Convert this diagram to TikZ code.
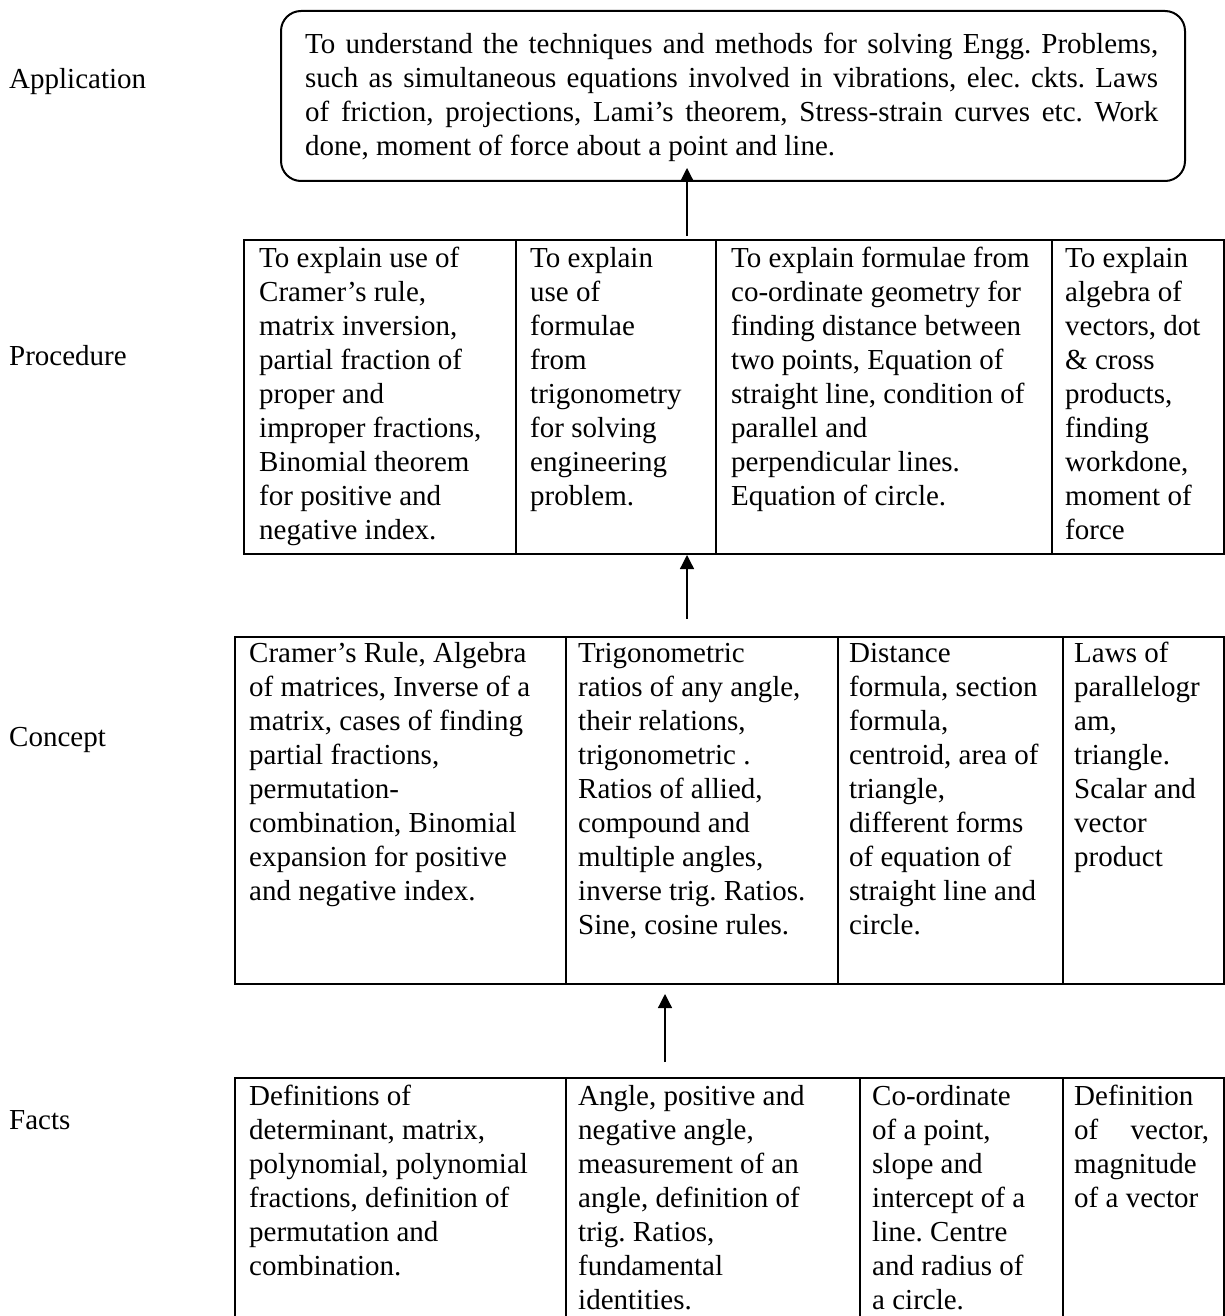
\documentclass[tikz,border=0pt]{standalone}
\usepackage{fontspec}
\setmainfont{Liberation Serif}
\usetikzlibrary{arrows.meta}
\frenchspacing
\tikzset{
  cellbox/.style={draw, line width=2pt, inner sep=0pt, anchor=north west},
  txt/.style={anchor=north west, inner sep=0pt, align=left, font=\fontsize{29}{34}\selectfont},
  arr/.style={line width=1.3pt, -{Triangle[width=14pt,length=14pt]}}
}
\begin{document}
\begin{tikzpicture}[x=1pt,y=-1pt]
\useasboundingbox (0,0) rectangle (1225,1316);
% labels
\node[txt] (lapp) at (9,64.2) {\strut Application};
\node[txt] (lproc) at (9,341.2) {\strut Procedure};
\node[txt] (lcon) at (9,722.2) {\strut Concept};
\node[txt] (lfac) at (9,1105.2) {\strut Facts};
% application box
\node[draw, line width=2pt, rounded corners=20pt, minimum width=904pt, minimum height=170pt, anchor=north west, inner sep=0pt] (appbox) at (280,10) {};
\node[txt] (apptxt) at (305,29.2) {\strut\makebox[853pt][s]{To understand the techniques and methods for solving Engg. Problems,}\\
\makebox[853pt][s]{such as simultaneous equations involved in vibrations, elec. ckts. Laws}\\
\makebox[853pt][s]{of friction, projections, Lami's theorem, Stress-strain curves etc. Work}\\
done, moment of force about a point and line.};
% procedure row
\node[cellbox, minimum width=272pt, minimum height=314pt] (p1) at (243,239) {};
\node[cellbox, minimum width=200pt, minimum height=314pt] (p2) at (515,239) {};
\node[cellbox, minimum width=336pt, minimum height=314pt] (p3) at (715,239) {};
\node[cellbox, minimum width=172pt, minimum height=314pt] (p4) at (1051,239) {};
\node[txt] (p1t) at (259,243.2) {\strut To explain use of\\Cramer's rule,\\matrix inversion,\\partial fraction of\\proper and\\improper fractions,\\Binomial theorem\\for positive and\\negative index.};
\node[txt] (p2t) at (530,243.2) {\strut To explain\\use of\\formulae\\from\\trigonometry\\for solving\\engineering\\problem.};
\node[txt] (p3t) at (731,243.2) {\strut To explain formulae from\\co-ordinate geometry for\\finding distance between\\two points, Equation of\\straight line, condition of\\parallel and\\perpendicular lines.\\Equation of circle.};
\node[txt] (p4t) at (1065,243.2) {\strut To explain\\algebra of\\vectors, dot\\\& cross\\products,\\finding\\workdone,\\moment of\\force};
% concept row
\node[cellbox, minimum width=331pt, minimum height=347pt] (c1) at (234,636) {};
\node[cellbox, minimum width=272pt, minimum height=347pt] (c2) at (565,636) {};
\node[cellbox, minimum width=225pt, minimum height=347pt] (c3) at (837,636) {};
\node[cellbox, minimum width=161pt, minimum height=347pt] (c4) at (1062,636) {};
\node[txt] (c1t) at (249,638.2) {\strut Cramer's Rule, Algebra\\of matrices, Inverse of a\\matrix, cases of finding\\partial fractions,\\permutation-\\combination, Binomial\\expansion for positive\\and negative index.};
\node[txt] (c2t) at (578,638.2) {\strut Trigonometric\\ratios of any angle,\\their relations,\\trigonometric .\\Ratios of allied,\\compound and\\multiple angles,\\inverse trig. Ratios.\\Sine, cosine rules.};
\node[txt] (c3t) at (849,638.2) {\strut Distance\\formula, section\\formula,\\centroid, area of\\triangle,\\different forms\\of equation of\\straight line and\\circle.};
\node[txt] (c4t) at (1074,638.2) {\strut Laws of\\parallelogr\\am,\\triangle.\\Scalar and\\vector\\product};
% facts row
\node[cellbox, minimum width=331pt, minimum height=280pt] (f1) at (234,1077) {};
\node[cellbox, minimum width=294pt, minimum height=280pt] (f2) at (565,1077) {};
\node[cellbox, minimum width=203pt, minimum height=280pt] (f3) at (859,1077) {};
\node[cellbox, minimum width=161pt, minimum height=280pt] (f4) at (1062,1077) {};
\node[txt] (f1t) at (249,1081.2) {\strut Definitions of\\determinant, matrix,\\polynomial, polynomial\\fractions, definition of\\permutation and\\combination.};
\node[txt] (f2t) at (578,1081.2) {\strut Angle, positive and\\negative angle,\\measurement of an\\angle, definition of\\trig. Ratios,\\fundamental\\identities.};
\node[txt] (f3t) at (872,1081.2) {\strut Co-ordinate\\of a point,\\slope and\\intercept of a\\line. Centre\\and radius of\\a circle.};
\node[txt] (f4t) at (1074,1081.2) {\strut Definition\\\makebox[135pt][s]{of vector,}\\magnitude\\of a vector};
% connectors
\coordinate (a1s) at (687,236);
\coordinate (a1e) at (687,168);
\coordinate (a2s) at (687,619);
\coordinate (a2e) at (687,555);
\coordinate (a3s) at (665,1062);
\coordinate (a3e) at (665,994);
\draw[arr] (a1s) -- (a1e);
\draw[arr] (a2s) -- (a2e);
\draw[arr] (a3s) -- (a3e);
\end{tikzpicture}
\end{document}
